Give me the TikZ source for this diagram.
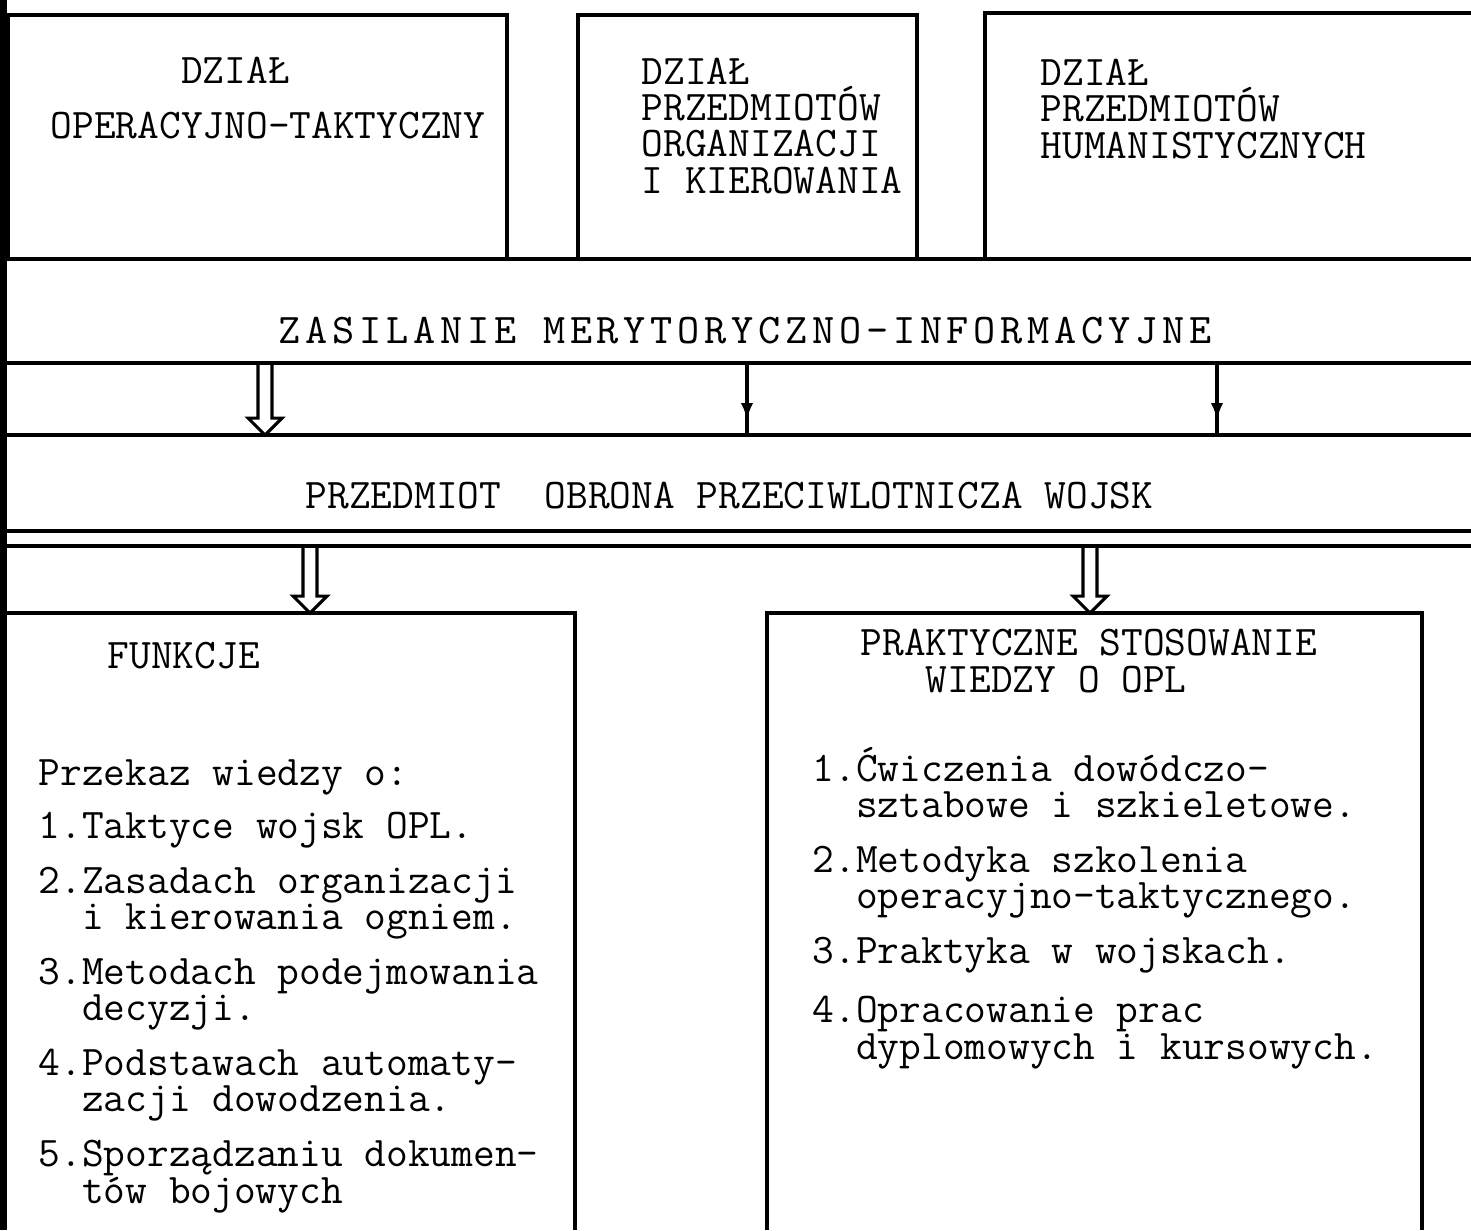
\documentclass[tikz,border=0pt]{standalone}
\usepackage{fontspec}
\newfontfamily\spacedmono{lmmono10-regular.otf}[LetterSpace=11.3]
\usepackage{tikz}
\usetikzlibrary{arrows.meta,calc,decorations.markings}

\begin{document}
\begin{tikzpicture}[x=0.01cm, y=-0.01cm,
    rule/.style={line width=0.9pt},
    txt/.style={anchor=base west, inner sep=0pt, align=left, font=\ttfamily\fontsize{12}{10.3}\selectfont},
    thinarr/.style={line width=1pt, postaction={decorate},
      decoration={markings, mark=at position 0.8 with {\arrow{Latex[length=5pt,width=3.5pt]}}}},
    hollow/.style={line width=0.9pt, to path={let \p1=(\tikztostart), \p2=(\tikztotarget) in
      (\x1-2pt,\y1) -- (\x1-2pt,\y2+4.8pt) -- (\x1-4.8pt,\y2+4.8pt) -- (\x1,\y2)
      -- (\x1+4.8pt,\y2+4.8pt) -- (\x1+2pt,\y2+4.8pt) -- (\x1+2pt,\y1)}}]
    \useasboundingbox (0,0) rectangle (1471,1230);
    \fill (0,0) rectangle (7,1230);

    % dzialy (anchor = baseline of the last line)
    \draw [rule] (8,259) |- (507,15) -- (507,259);
    \draw [rule] (578,259) |- (917,15) -- (917,259);
    \draw [rule] (985,259) |- (1471,13);
    \node [txt] (dzot) at (50,138) {\phantom{OPERAC}DZIAŁ\\[5.3pt]OPERACYJNO-TAKTYCZNY};
    \node [txt] (dzok) at (641,193) {DZIAŁ\\PRZEDMIOTÓW\\ORGANIZACJI\\I KIEROWANIA};
    \node [txt] (dzhum) at (1040,158) {DZIAŁ\\PRZEDMIOTÓW\\HUMANISTYCZNYCH};

    % pasy
    \draw [rule] (0,259) -- (1471,259);
    \draw [rule] (0,363) -- (1471,363);
    \draw [rule] (0,435) -- (1471,435);
    \draw [rule] (0,531) -- (1471,531);
    \draw [rule] (0,546) -- (1471,546);
    \node [txt, anchor=base, font=\spacedmono\fontsize{12}{10.3}\selectfont] (zas) at (745,343) {ZASILANIE MERYTORYCZNO-INFORMACYJNE};
    \node [txt] (przedm) at (305,508) {PRZEDMIOT\ \ OBRONA PRZECIWLOTNICZA WOJSK};

    \coordinate (z1) at (265,363);  \coordinate (p1) at (265,435);
    \coordinate (z2) at (747,363);  \coordinate (p2) at (747,435);
    \coordinate (z3) at (1217,363); \coordinate (p3) at (1217,435);
    \coordinate (o1) at (310,546);  \coordinate (f1) at (310,613);
    \coordinate (o2) at (1090,546); \coordinate (f2) at (1090,613);
    \draw [hollow] (z1) to (p1);
    \draw [thinarr] (z2) -- (p2);
    \draw [thinarr] (z3) -- (p3);
    \draw [hollow] (o1) to (f1);
    \draw [hollow] (o2) to (f2);

    % funkcje
    \draw [rule] (0,613) -| (575,1230);
    \node [txt] (funk) at (107,668) {FUNKCJE};
    \node [txt] (funklist) at (38,1203) {Przekaz wiedzy o:\\[4.8pt]
      1.Taktyce wojsk OPL.\\[5.3pt]
      2.Zasadach organizacji\\ \phantom{2.}i kierowania ogniem.\\[5.3pt]
      3.Metodach podejmowania\\ \phantom{3.}decyzji.\\[5.3pt]
      4.Podstawach automaty-\\ \phantom{4.}zacji dowodzenia.\\[5.3pt]
      5.Sporządzaniu dokumen-\\ \phantom{5.}tów bojowych};

    % praktyczne stosowanie
    \draw [rule] (767,1230) |- (1422,613) -- (1422,1230);
    \node [txt] (prak) at (860,692) {PRAKTYCZNE STOSOWANIE\\ \phantom{PRA}WIEDZY O OPL};
    \node [txt] (praklist) at (812,1059) {1.Ćwiczenia dowódczo-\\ \phantom{1.}sztabowe i szkieletowe.\\[5.3pt]
      2.Metodyka szkolenia\\ \phantom{2.}operacyjno-taktycznego.\\[5.3pt]
      3.Praktyka w wojskach.\\[6.5pt]
      4.Opracowanie prac\\ \phantom{4.}dyplomowych i kursowych.};
\end{tikzpicture}
\end{document}
